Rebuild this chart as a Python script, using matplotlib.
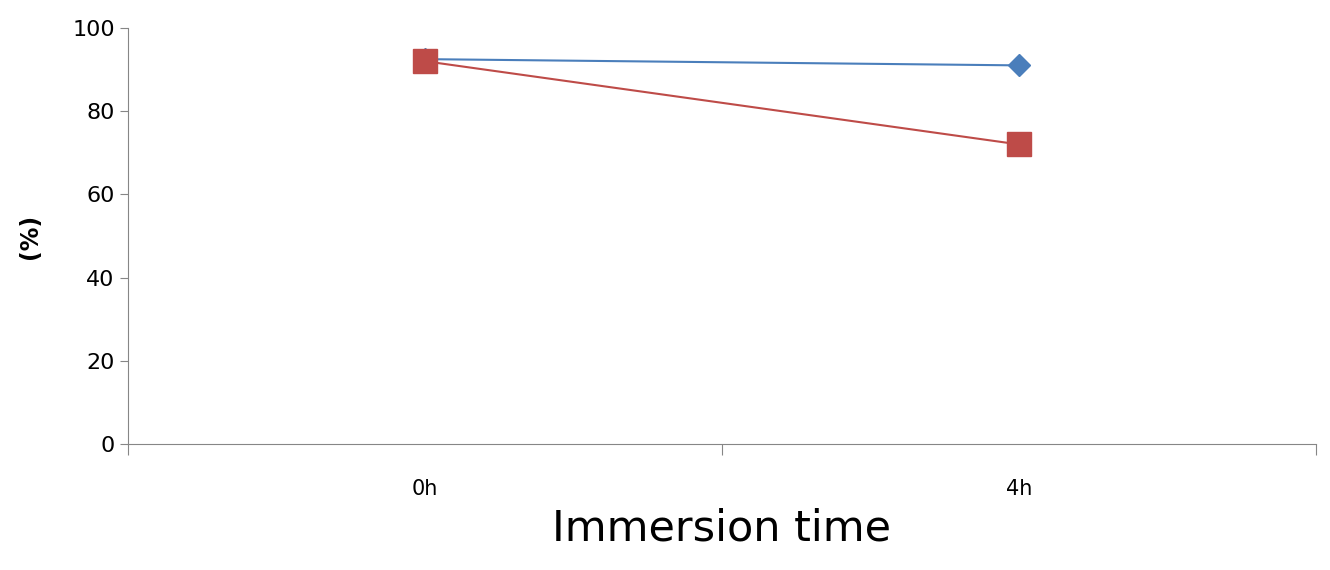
import matplotlib.pyplot as plt

categories = ['0h', '4h']
blue_vals = [92.5, 91.0]
red_vals = [92.0, 72.0]

fig = plt.figure(figsize=(13.3, 5.7), dpi=100)
ax = fig.add_axes([0.0962, 0.221, 0.8933, 0.730])

xs = [0.5, 1.5]
ax.plot(xs, blue_vals, color='#4a7ebb', lw=1.5, marker='D', markersize=11, zorder=3)
ax.plot(xs, red_vals, color='#be4b48', lw=1.5, marker='s', markersize=17, zorder=4)

ax.set_xlim(0, 2)
ax.set_ylim(0, 100)
ax.set_yticks(range(0, 101, 20))
ax.set_xticks([0, 1, 2])
ax.set_xticklabels([])
ax.set_xticks(xs, minor=True)
ax.set_xticklabels(categories, minor=True)
ax.tick_params(axis='x', which='major', direction='out', length=8, color='#868686')
ax.tick_params(axis='x', which='minor', length=0, pad=25, labelsize=15)
ax.tick_params(axis='y', direction='out', length=6, color='#868686', labelsize=16)

for s in ['top', 'right']:
    ax.spines[s].set_visible(False)
for s in ['left', 'bottom']:
    ax.spines[s].set_color('#868686')

ax.set_ylabel('(%)', fontsize=17, fontweight='bold', labelpad=22)
ax.set_xlabel('Immersion time', fontsize=31, labelpad=6)

fig.savefig('out.png', dpi=100)
